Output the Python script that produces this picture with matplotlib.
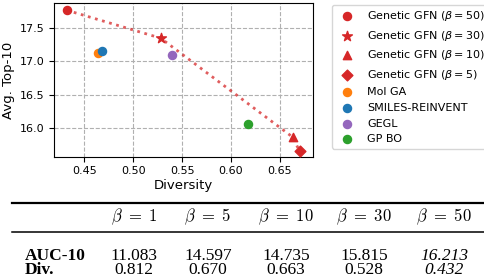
import matplotlib
matplotlib.use("Agg")
import matplotlib.pyplot as plt
from matplotlib.lines import Line2D

# scatter data (diversity, avg top-10)
gfn_labels = [r"Genetic GFN ($\beta=50$)", r"Genetic GFN ($\beta=30$)",
              r"Genetic GFN ($\beta=10$)", r"Genetic GFN ($\beta=5$)"]
gfn_div = [0.432, 0.528, 0.663, 0.670]
gfn_top10 = [17.77, 17.35, 15.86, 15.65]
gfn_markers = ["o", "*", "^", "D"]
gfn_sizes = [34, 55, 36, 30]

base_labels = ["Mol GA", "SMILES-REINVENT", "GEGL", "GP BO"]
base_div = [0.464, 0.468, 0.540, 0.617]
base_top10 = [17.12, 17.15, 17.09, 16.06]
base_colors = ["tab:orange", "tab:blue", "tab:purple", "tab:green"]

# table data
betas = [1, 5, 10, 30, 50]
auc10 = ["11.083", "14.597", "14.735", "15.815", "16.213"]
divs = ["0.812", "0.670", "0.663", "0.528", "0.432"]

fig = plt.figure(figsize=(4.84, 2.78), dpi=100)
ax = fig.add_axes([0.1116, 0.4363, 0.5355, 0.552])

ax.plot(gfn_div, gfn_top10, ":", color="tab:red", lw=2, alpha=0.75, zorder=2)
for x, y, lab, m, s in zip(gfn_div, gfn_top10, gfn_labels, gfn_markers, gfn_sizes):
    ax.scatter(x, y, marker=m, s=s, color="tab:red", label=lab, zorder=3)
for x, y, lab, c in zip(base_div, base_top10, base_labels, base_colors):
    ax.scatter(x, y, marker="o", s=34, color=c, label=lab, zorder=3)

ax.set_xlim(0.419, 0.684)
ax.set_ylim(15.565, 17.875)
ax.set_xticks([0.45, 0.50, 0.55, 0.60, 0.65])
ax.set_yticks([16.0, 16.5, 17.0, 17.5])
ax.grid(True, ls="--", color="#b0b0b0", lw=0.8)
ax.set_axisbelow(True)
ax.tick_params(labelsize=8)
ax.set_xlabel("Diversity", fontsize=9.5, labelpad=2)
ax.set_ylabel("Avg. Top-10", fontsize=9.5, labelpad=3)

fig.legend(loc="upper left", bbox_to_anchor=(0.685, 0.983), fontsize=8,
           borderaxespad=0)

# table below the plot
serif = ["Liberation Serif", "DejaVu Serif"]
fig.add_artist(Line2D([12 / 484, 1], [1 - 203 / 278] * 2, color="k", lw=1.6))
fig.add_artist(Line2D([12 / 484, 1], [1 - 232 / 278] * 2, color="k", lw=1.1))
col_x = [134, 208, 286, 364, 444]
for cx, b in zip(col_x, betas):
    fig.text(cx / 484, 1 - 216.5 / 278, r"$\beta\ =\ %d$" % b, ha="center", va="center",
             fontsize=12, math_fontfamily="cm")
rows = [("AUC-10", auc10, 255.5), ("Div.", divs, 270.5)]
for name, vals, yy in rows:
    fig.text(25 / 484, 1 - yy / 278, name, ha="left", va="center", fontsize=12.5,
             family=serif, weight="bold")
    for i, (cx, v) in enumerate(zip(col_x, vals)):
        fig.text(cx / 484, 1 - yy / 278, v, ha="center", va="center", fontsize=12.5,
                 family=serif, style="italic" if betas[i] == 50 else "normal")

fig.savefig("out.png", dpi=100)
